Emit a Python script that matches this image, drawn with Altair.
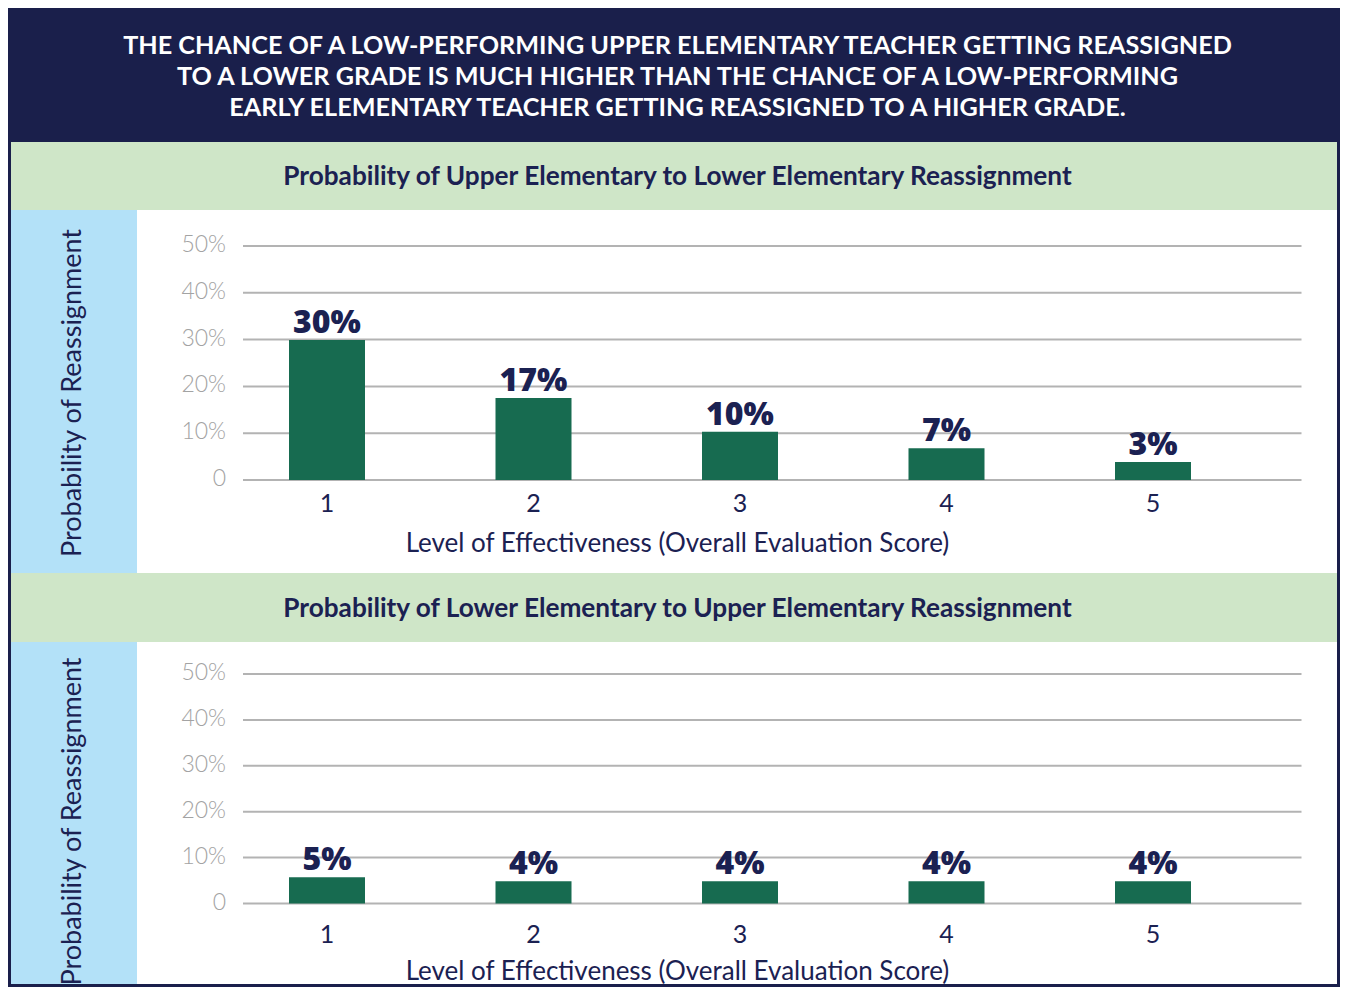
import altair as alt
import pandas as pd

# ---------------- data ----------------
TITLE_LINES = [
    "THE CHANCE OF A LOW-PERFORMING UPPER ELEMENTARY TEACHER GETTING REASSIGNED",
    "TO A LOWER GRADE IS MUCH HIGHER THAN THE CHANCE OF A LOW-PERFORMING",
    "EARLY ELEMENTARY TEACHER GETTING REASSIGNED TO A HIGHER GRADE.",
]
PANEL_TITLES = [
    "Probability of Upper Elementary to Lower Elementary Reassignment",
    "Probability of Lower Elementary to Upper Elementary Reassignment",
]
Y_TITLE = "Probability of Reassignment"
X_TITLE = "Level of Effectiveness (Overall Evaluation Score)"
LEVELS = [1, 2, 3, 4, 5]
LEVEL_LABELS = ["1", "2", "3", "4", "5"]
UPPER_TO_LOWER = [0.299, 0.175, 0.103, 0.068, 0.0385]
UPPER_TO_LOWER_LABELS = ["30%", "17%", "10%", "7%", "3%"]
LOWER_TO_UPPER = [0.057, 0.0485, 0.0485, 0.0485, 0.0485]
LOWER_TO_UPPER_LABELS = ["5%", "4%", "4%", "4%", "4%"]
Y_TICKS = [0, 0.1, 0.2, 0.3, 0.4, 0.5]
Y_TICK_LABELS = ["0", "10%", "20%", "30%", "40%", "50%"]

# ---------------- style / layout ----------------
FONT = "Lato"
LABEL_FONT = "Open Sans"
NAVY = "#1a1f4b"
TEXT_NAVY = "#1b2152"
BAR_GREEN = "#176b50"
BAND_GREEN = "#cfe6c8"
STRIP_BLUE = "#b3e1f8"
GRID = "#b3b3b3"
TICK_GREY = "#a3a3a3"

STRIP_W = 126
PLOT_W = 1200
FULL_W = STRIP_W + PLOT_W
CENTER_X = 666.5           # centre of headings, from left of content
BAND_H = [68, 69]
ROW_H = [363, 342]
ZERO_Y = [270, 261.5]      # zero line from top of row
PPU_Y = [468, 459]         # pixels per unit of probability
STRIP_TEXT_Y = [183, 179.5]
XLABEL_DY = [32, 39]
XTITLE_DY = [72, 76.5]
BAR_C1 = 190               # centre of first bar from plot-view left
PPU_X = 206.5
GRID_L = 106
GRID_R = 1164.5
XTITLE_X = CENTER_X - STRIP_W


def band(i):
    df = pd.DataFrame({"t": [PANEL_TITLES[i]]})
    return alt.Chart(df).mark_text(
        font=FONT, fontSize=26.2, fontWeight="bold", color=TEXT_NAVY, baseline="middle"
    ).encode(
        text="t:N", x=alt.value(CENTER_X), y=alt.value(BAND_H[i] / 2 + 1)
    ).properties(
        width=FULL_W, height=BAND_H[i],
        view=alt.ViewBackground(fill=BAND_GREEN, strokeWidth=0),
    )


def strip(i):
    df = pd.DataFrame({"t": [Y_TITLE]})
    return alt.Chart(df).mark_text(
        font=FONT, fontSize=27, color=TEXT_NAVY, angle=270, baseline="middle"
    ).encode(
        text="t:N", x=alt.value(62), y=alt.value(STRIP_TEXT_Y[i])
    ).properties(
        width=STRIP_W, height=ROW_H[i],
        view=alt.ViewBackground(fill=STRIP_BLUE, strokeWidth=0),
    )


def plot(i, values, labels):
    H = ROW_H[i]
    ydom = [(ZERO_Y[i] - H) / PPU_Y[i], ZERO_Y[i] / PPU_Y[i]]
    xdom = [1 - BAR_C1 / PPU_X, 1 + (PLOT_W - BAR_C1) / PPU_X]
    xl = 1 + (GRID_L - BAR_C1) / PPU_X
    xr = 1 + (GRID_R - BAR_C1) / PPU_X
    xt = 1 + (XTITLE_X - BAR_C1) / PPU_X

    xscale = alt.Scale(domain=xdom, nice=False, zero=False, padding=0)
    yscale = alt.Scale(domain=ydom, nice=False, zero=False, padding=0)

    df = pd.DataFrame({"level": LEVELS, "value": values, "label": labels,
                       "level_label": LEVEL_LABELS, "zero": [0.0] * len(LEVELS)})
    grid_df = pd.DataFrame({"tick": Y_TICKS, "tick_label": Y_TICK_LABELS,
                            "xl": [xl] * len(Y_TICKS), "xr": [xr] * len(Y_TICKS)})
    title_df = pd.DataFrame({"t": [X_TITLE], "xt": [xt], "zero": [0.0]})

    X = lambda f: alt.X(f, scale=xscale, axis=None)
    Y = lambda f: alt.Y(f, scale=yscale, axis=None)

    grid = alt.Chart(grid_df).mark_rule(color=GRID, strokeWidth=2).encode(
        y=Y("tick:Q"), x=X("xl:Q"), x2="xr:Q",
    )

    ylabels = alt.Chart(grid_df).mark_text(
        font=FONT, fontSize=23, fontWeight=300, color=TICK_GREY,
        align="right", baseline="middle", dx=-17, dy=-1
    ).encode(y=Y("tick:Q"), x=X("xl:Q"), text="tick_label:N")

    bars = alt.Chart(df).mark_bar(size=76, color=BAR_GREEN).encode(
        x=X("level:Q"), y=Y("value:Q"),
    )

    xlabels = alt.Chart(df).mark_text(
        font=FONT, fontSize=25, color=TEXT_NAVY, baseline="alphabetic",
        dy=XLABEL_DY[i]
    ).encode(x=X("level:Q"), y=Y("zero:Q"), text="level_label:N")

    xtitle = alt.Chart(title_df).mark_text(
        font=FONT, fontSize=26, color=TEXT_NAVY, baseline="alphabetic",
        dy=XTITLE_DY[i]
    ).encode(x=X("xt:Q"), y=Y("zero:Q"), text="t:N")

    text = alt.Chart(df).mark_text(
        font=LABEL_FONT, fontSize=32, fontWeight=800, color=TEXT_NAVY,
        baseline="alphabetic", dy=-7
    ).encode(x=X("level:Q"), y=Y("value:Q"), text="label:N")

    return alt.layer(grid, ylabels, bars, xlabels, xtitle, text).properties(
        width=PLOT_W, height=H,
        view=alt.ViewBackground(fill="white", strokeWidth=0),
    )


row0 = alt.hconcat(strip(0), plot(0, UPPER_TO_LOWER, UPPER_TO_LOWER_LABELS),
                   spacing=0, bounds="flush")
row1 = alt.hconcat(strip(1), plot(1, LOWER_TO_UPPER, LOWER_TO_UPPER_LABELS),
                   spacing=0, bounds="flush")

chart = alt.vconcat(band(0), row0, band(1), row1, spacing=0).properties(
    title=alt.TitleParams(
        text=TITLE_LINES, anchor="middle", font=FONT, fontSize=25.2, fontWeight="bold",
        color="white", lineHeight=31, offset=21, dx=CENTER_X - FULL_W / 2,
    ),
    background=NAVY,
    padding={"left": 3, "right": 3, "top": 25, "bottom": 0},
).configure_view(strokeWidth=0)

chart.save("out.html", embed_options={"renderer": "svg", "actions": False})
